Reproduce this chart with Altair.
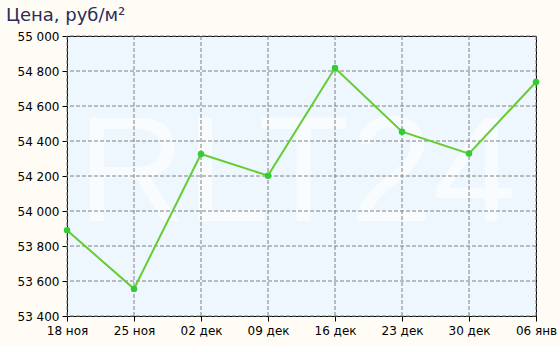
import altair as alt
import pandas as pd

dates = ["18 ноя", "25 ноя", "02 дек", "09 дек", "16 дек", "23 дек", "30 дек", "06 янв"]
prices = [53890, 53555, 54326, 54202, 54817, 54453, 54328, 54737]
y_ticks = [53400, 53600, 53800, 54000, 54200, 54400, 54600, 54800, 55000]

df = pd.DataFrame({"date": dates, "price": prices})
df_y = pd.DataFrame({"price": y_ticks})
df_x = pd.DataFrame({"date": dates})

x_scale = alt.Scale(type="point", padding=0, domain=dates)
y_scale = alt.Scale(domain=[53400, 55000], nice=False, zero=False)

x_axis = alt.Axis(title=None, labelAngle=0, labelFont="DejaVu Sans", labelFontSize=12,
                  labelColor="#000000", domain=True, domainColor="#000000",
                  ticks=True, tickColor="#000000", tickSize=5, labelPadding=4, grid=False)
y_axis = alt.Axis(title=None, values=y_ticks, labelFont="DejaVu Sans", labelFontSize=12,
                  labelColor="#000000", domainColor="#000000", tickColor="#000000",
                  tickSize=5, labelPadding=3,
                  labelExpr="replace(format(datum.value, ','), ',', ' ')", grid=False)

x_enc = alt.X("date:N", sort=dates, scale=x_scale, axis=x_axis)
y_enc = alt.Y("price:Q", scale=y_scale, axis=y_axis)

watermark = alt.Chart(pd.DataFrame({"t": ["RLT24"]})).mark_text(
    font="Liberation Sans", fontSize=150, color="#f8fcff", align="center", baseline="middle"
).encode(text="t:N", x=alt.value(230), y=alt.value(140))

hgrid = alt.Chart(df_y).mark_rule(color="#808080", strokeDash=[4, 2], strokeWidth=1).encode(y=y_enc)
vgrid = alt.Chart(df_x).mark_rule(color="#808080", strokeDash=[4, 2], strokeWidth=1).encode(x=x_enc)

line = alt.Chart(df).mark_line(color="#66cc33", strokeWidth=2).encode(x=x_enc, y=y_enc)
points = alt.Chart(df).mark_circle(color="#33cc33", size=42, opacity=1).encode(x=x_enc, y=y_enc)

chart = alt.layer(watermark, hgrid, vgrid, line, points).properties(
    width=469, height=280,
    background="#fffcf5",
    padding={"left": 67, "top": 36, "right": 24, "bottom": 30},
    autosize=alt.AutoSizeParams(type="none"),
    title=alt.TitleParams("Цена, руб/м²", anchor="start", frame="group", dx=-61, dy=3,
                          font="DejaVu Sans", fontSize=18, fontWeight="normal", color="#2b2b5c",
                          offset=8),
).configure_view(fill="#edf7fd", stroke="#000000", strokeWidth=1)

chart.save("out.html", embed_options={"renderer": "svg", "actions": False})
